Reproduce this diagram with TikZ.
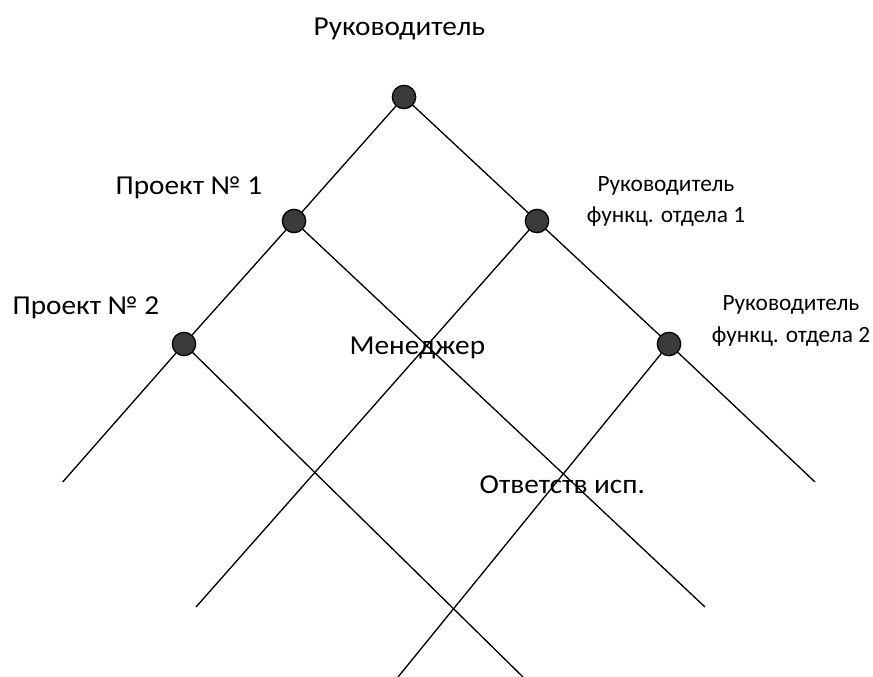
\documentclass[tikz,border=0pt]{standalone}
\usepackage{fontspec}
\setmainfont{Carlito}[FakeStretch=1.07]
\newfontfamily\headfont{Carlito}
\begin{document}
\begin{tikzpicture}[x=0.75pt,y=-0.75pt,line width=1pt,
        dot/.style={circle,draw,fill=black!77,line width=1pt,minimum size=17.5pt,inner sep=0pt},
        bigtext/.style={anchor=base west,inner sep=0pt,font=\fontsize{20.5}{24}\selectfont},
        smalltext/.style={anchor=base,inner sep=0pt,align=center,font=\headfont\fontsize{17.5}{24}\selectfont}]
        \useasboundingbox (0,0) rectangle (873,677);
        %% dots
        \node[dot] (top) at (404,97) {};
        \node[dot] (proj1) at (294,221) {};
        \node[dot] (head1) at (537,221) {};
        \node[dot] (proj2) at (184,344) {};
        \node[dot] (head2) at (669,344) {};
        %% free ends
        \coordinate (endL) at (62.7,482);
        \coordinate (endR) at (815,482);
        \coordinate (end1) at (705,607);
        \coordinate (end2) at (196,607);
        \coordinate (end3) at (523,677);
        \coordinate (end4) at (398,677);
        %% lines
        \draw (top) -- (proj1) (proj1) -- (proj2) (proj2) -- (endL);
        \draw (top) -- (head1) (head1) -- (head2) (head2) -- (endR);
        \draw (proj1) -- (end1);
        \draw (head1) -- (end2);
        \draw (proj2) -- (end3);
        \draw (head2) -- (end4);
        %% labels
        \node[bigtext] (boss) at (313,36) {Руководитель};
        \node[bigtext] (p1) at (115,195) {Проект № 1};
        \node[bigtext] (p2) at (12,314) {Проект № 2};
        \node[bigtext] (mgr) at (349,354) {Менеджер};
        \node[bigtext] (exec) at (479,493) {Ответств исп.};
        \node[smalltext] (h1) at (666,223) {Руководитель\\функц. отдела 1};
        \node[smalltext] (h2) at (791,342) {Руководитель\\функц. отдела 2};
\end{tikzpicture}
\end{document}
